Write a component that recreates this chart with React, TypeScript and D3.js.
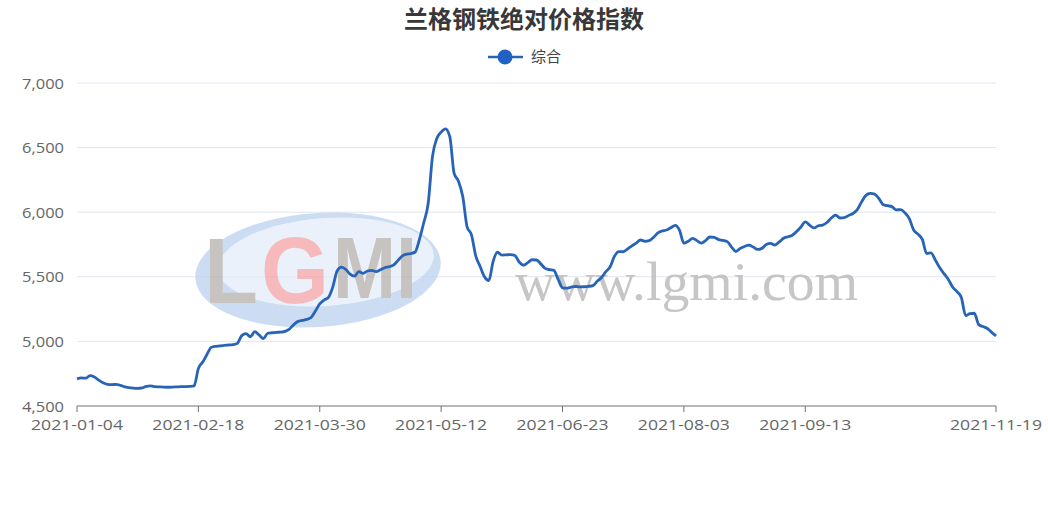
import React from "react";
import * as d3 from "d3";

const title = "兰格钢铁绝对价格指数";
const seriesName = "综合";

const values: number[] = [
  4710, 4718, 4715, 4735, 4725, 4700, 4680, 4668, 4665, 4668,
  4660, 4648, 4642, 4638, 4636, 4640, 4652, 4655, 4650, 4648,
  4646, 4645, 4646, 4648, 4650, 4650, 4652, 4655, 4790, 4840,
  4900, 4955, 4962, 4965, 4970, 4972, 4975, 4985, 5045, 5060,
  5036, 5075, 5050, 5022, 5063, 5067, 5070, 5072, 5078, 5095,
  5130, 5155, 5163, 5170, 5185, 5235, 5290, 5320, 5340, 5420,
  5545, 5575, 5558, 5520, 5505, 5540, 5527, 5545, 5550, 5540,
  5555, 5570, 5578, 5590, 5625, 5660, 5675, 5680, 5692, 5790,
  5920, 6065, 6430, 6570, 6620, 6645, 6585, 6300, 6240, 6120,
  5885, 5825, 5660, 5580, 5500, 5470, 5620, 5690, 5668, 5670,
  5672, 5665, 5615, 5590, 5610, 5632, 5630, 5600, 5565, 5555,
  5550, 5480, 5415, 5412, 5420, 5425, 5422, 5423, 5426, 5432,
  5465, 5495, 5540, 5578, 5660, 5695, 5694, 5715, 5740, 5760,
  5785, 5775, 5780, 5805, 5840, 5855, 5862, 5880, 5898, 5860,
  5760, 5775, 5798, 5780, 5760, 5780, 5808, 5805, 5788, 5782,
  5772, 5730, 5696, 5720, 5735, 5745, 5730, 5712, 5720, 5750,
  5758, 5746, 5770, 5798, 5810, 5822, 5850, 5885, 5925, 5900,
  5878, 5895, 5900, 5920, 5955, 5978, 5955, 5958, 5975, 5990,
  6020, 6080, 6130, 6145, 6140, 6105, 6058, 6050, 6043, 6018,
  6020, 5995, 5950, 5862, 5830, 5790, 5680, 5685, 5630, 5572,
  5525, 5480, 5420, 5385, 5340, 5200, 5215, 5218, 5130, 5115,
  5100, 5070, 5042,
];

const xTickLabels = [
  "2021-01-04", "2021-02-18", "2021-03-30", "2021-05-12",
  "2021-06-23", "2021-08-03", "2021-09-13", "2021-11-19",
];
const xTickIndex = [0, 28, 56, 84, 112, 140, 168, 212];
const yTicks = [4500, 5000, 5500, 6000, 6500, 7000];

const W = 1048;
const H = 508;
const M = { left: 77, right: 52, top: 83, bottom: 102 };

export default function App() {
  const x = d3.scaleLinear().domain([0, values.length - 1]).range([M.left, W - M.right]);
  const y = d3.scaleLinear().domain([4500, 7000]).range([H - M.bottom, M.top]);
  const line = d3
    .line<number>()
    .x((_, i) => x(i))
    .y((d) => y(d))
    .curve(d3.curveMonotoneX);
  const fmt = d3.format(",");
  const font = "'Noto Sans CJK SC', 'Noto Sans', sans-serif";
  const labelFont = "'Open Sans', 'Noto Sans', sans-serif";
  const logoFont = "'Liberation Sans', Arial, sans-serif";

  return (
    <svg
      width={W}
      height={H}
      style={{ position: "absolute", left: 0, top: 0, background: "#fff" }}
      fontFamily={font}
    >
      <rect width={W} height={H} fill="#fff" />
      {/* title */}
      <text x={524} y={28} textAnchor="middle" fontSize={24} fontWeight="bold" fill="#383838">
        {title}
      </text>
      {/* legend */}
      <g>
        <line x1={488} x2={523} y1={57} y2={57} stroke="#2764b8" strokeWidth={2.6} />
        <circle cx={505} cy={57} r={7.5} fill="#1f62c4" />
        <text x={531} y={62} fontSize={15} fill="#444">{seriesName}</text>
      </g>
      {/* grid */}
      {yTicks.map((t) => (
        <g key={t}>
          {t !== 4500 && (
            <line x1={M.left} x2={W - M.right} y1={y(t)} y2={y(t)} stroke="#e0e6f1" strokeWidth={1} />
          )}
          <text
            x={64}
            y={y(t) + 5.5}
            textAnchor="end"
            fontSize={15}
            fontFamily={labelFont}
            fill="#666"
            textLength={42}
            lengthAdjust="spacingAndGlyphs"
          >
            {fmt(t)}
          </text>
        </g>
      ))}
      {/* watermark */}
      <g opacity={0.75}>
        <ellipse cx={318} cy={270} rx={123} ry={57} fill="#bcd2ef" transform="rotate(-4 318 270)" />
        <ellipse cx={326} cy={262} rx={108} ry={44} fill="#e3edf9" transform="rotate(-4 326 262)" />
        <text x={204} y={303} fontSize={92} fontWeight="bold" fontFamily={logoFont} fill="#b5afac" textLength={54} lengthAdjust="spacingAndGlyphs">L</text>
        <text x={261} y={303} fontSize={94} fontWeight="bold" fontFamily={logoFont} fill="#f4a3a6" textLength={68} lengthAdjust="spacingAndGlyphs">G</text>
        <text x={333} y={298} fontSize={88} fontWeight="bold" fontFamily={logoFont} fill="#b5afac" textLength={84} lengthAdjust="spacingAndGlyphs">MI</text>
        <text x={515} y={300} fontSize={55} fontFamily="'Liberation Serif', 'Times New Roman', serif" fill="#b4b4b4" textLength={343} lengthAdjust="spacingAndGlyphs">
          www.lgmi.com
        </text>
      </g>
      {/* x axis */}
      <line x1={M.left} x2={W - M.right} y1={y(4500)} y2={y(4500)} stroke="#6e7079" strokeWidth={1} />
      {xTickIndex.map((idx, k) => (
        <g key={idx}>
          <line x1={x(idx)} x2={x(idx)} y1={y(4500)} y2={y(4500) + 6} stroke="#6e7079" />
          <text
            x={x(idx)}
            y={y(4500) + 24}
            textAnchor="middle"
            fontSize={15}
            fontFamily={labelFont}
            fill="#666"
            textLength={92}
            lengthAdjust="spacingAndGlyphs"
          >
            {xTickLabels[k]}
          </text>
        </g>
      ))}
      {/* series */}
      <path d={line(values) || ""} fill="none" stroke="#2764b8" strokeWidth={2.8} strokeLinejoin="round" />
    </svg>
  );
}
